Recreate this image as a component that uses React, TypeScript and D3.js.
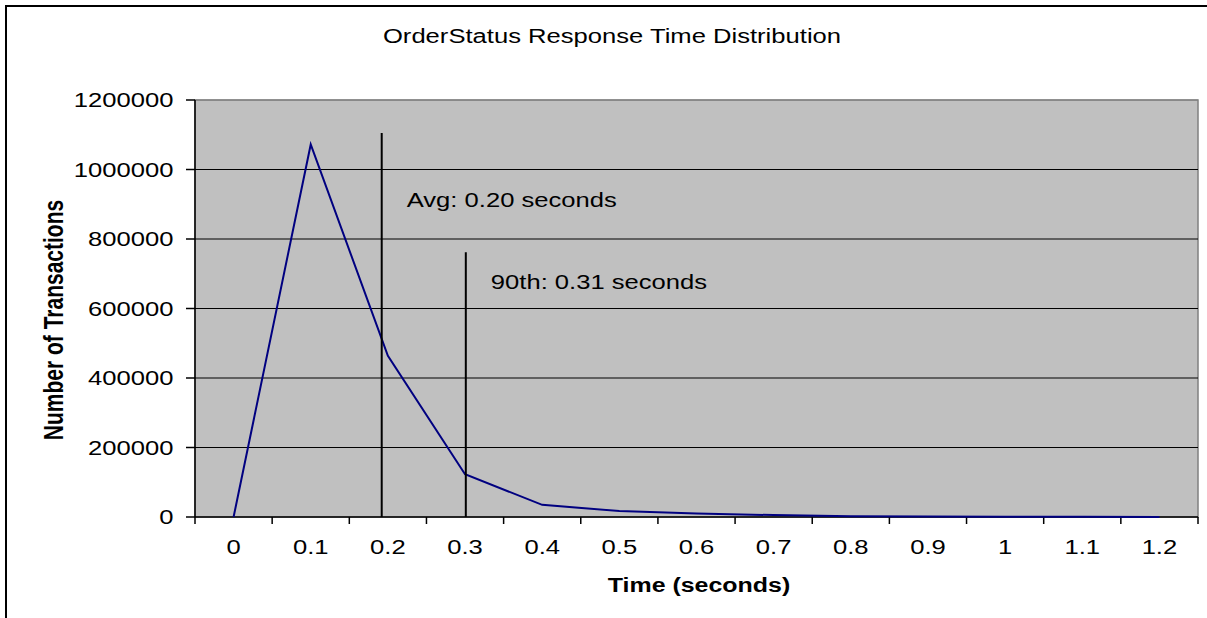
import * as d3 from "d3";
import React, {useRef, useEffect} from "react";

const categories = ["0", "0.1", "0.2", "0.3", "0.4", "0.5", "0.6", "0.7", "0.8", "0.9", "1", "1.1", "1.2"];
const transactions = [0, 1072000, 464000, 123000, 35000, 17000, 10000, 5500, 2500, 1200, 700, 400, 200];
const yTicks = [0, 200000, 400000, 600000, 800000, 1000000, 1200000];

// marker lines drawn over the chart (time in seconds, height in transactions)
const markerTimes = [0.192, 0.301];
const markerTops = [1105000, 762000];
const markerLabels = ["Avg: 0.20 seconds", "90th: 0.31 seconds"];
const markerLabelLevels = [893000, 655000];

const FONT = "'Liberation Sans', Arial, Helvetica, sans-serif";
const STRETCH = 1.28; // the original picture is widened horizontally

function App() {

    const ref = useRef(null);

    useEffect(() => {

        const svg = d3.select(ref.current);
        svg.selectAll("*").remove();

        const left = 195, right = 1198, top = 100, bottom = 517;

        const x = d3.scaleBand()
            .domain(categories)
            .range([left, right])
            .padding(0);

        const half = x.bandwidth() / 2;

        const xTime = d3.scaleLinear()
            .domain([0, 1.2])
            .range([x("0") + half, x("1.2") + half]);

        const y = d3.scaleLinear()
            .domain([0, 1200000])
            .range([bottom, top]);

        const label = (g, txt, tx, ty, anchor, size = 20, weight = "normal") =>
            g.append("text")
                .text(txt)
                .attr("transform", `translate(${tx},${ty}) scale(${STRETCH},1)`)
                .attr("text-anchor", anchor)
                .attr("font-family", FONT)
                .attr("font-size", size)
                .attr("font-weight", weight)
                .attr("fill", "black");

        // outer chart frame (cropped on the right and bottom)
        svg.append("rect")
            .attr("x", 6).attr("y", 6)
            .attr("width", 1240).attr("height", 640)
            .attr("fill", "white")
            .attr("stroke", "black")
            .attr("stroke-width", 2);

        label(svg, "OrderStatus Response Time Distribution", 612, 43, "middle");

        // plot area
        svg.append("rect")
            .attr("x", left).attr("y", top)
            .attr("width", right - left).attr("height", bottom - top)
            .attr("fill", "#c0c0c0")
            .attr("stroke", "#808080")
            .attr("stroke-width", 1.5);

        svg.append("g")
            .selectAll("line")
            .data(yTicks.filter(d => d > 0))
            .enter().append("line")
            .attr("x1", left).attr("x2", right)
            .attr("y1", d => y(d)).attr("y2", d => y(d))
            .attr("stroke", d => d === 1200000 ? "#808080" : "black")
            .attr("stroke-width", 1);

        // y axis
        svg.append("line")
            .attr("x1", left).attr("x2", left)
            .attr("y1", top).attr("y2", bottom)
            .attr("stroke", "black").attr("stroke-width", 1.5);

        const yAxis = svg.append("g");
        yAxis.selectAll("line")
            .data(yTicks)
            .enter().append("line")
            .attr("x1", left - 9).attr("x2", left)
            .attr("y1", d => y(d)).attr("y2", d => y(d))
            .attr("stroke", "black").attr("stroke-width", 1.5);
        yTicks.forEach(d => label(yAxis, String(d), 173.5, y(d) + 7.3, "end"));

        svg.append("text")
            .text("Number of Transactions")
            .attr("transform", `translate(63, 320) rotate(-90) scale(1,${STRETCH})`)
            .attr("text-anchor", "middle")
            .attr("font-family", FONT)
            .attr("font-size", 21)
            .attr("font-weight", "bold")
            .attr("fill", "black");

        // x axis with ticks between categories
        svg.append("line")
            .attr("x1", left).attr("x2", right)
            .attr("y1", bottom).attr("y2", bottom)
            .attr("stroke", "black").attr("stroke-width", 1.5);

        const xAxis = svg.append("g");
        xAxis.selectAll("line")
            .data([...categories.map(c => x(c)), right])
            .enter().append("line")
            .attr("x1", d => d).attr("x2", d => d)
            .attr("y1", bottom).attr("y2", bottom + 7)
            .attr("stroke", "black").attr("stroke-width", 1.5);
        categories.forEach(c => label(xAxis, c, x(c) + half, 554, "middle"));

        label(svg, "Time (seconds)", 699, 592, "middle", 19.5, "bold");

        // data line
        const line = d3.line()
            .x((d, i) => x(categories[i]) + half)
            .y(d => y(d));

        svg.append("path")
            .datum(transactions)
            .attr("d", line)
            .attr("fill", "none")
            .attr("stroke", "#000080")
            .attr("stroke-width", 2);

        // marker lines and labels
        const markers = svg.append("g");
        markerTimes.forEach((t, i) => {
            markers.append("line")
                .attr("x1", xTime(t)).attr("x2", xTime(t))
                .attr("y1", bottom)
                .attr("y2", y(markerTops[i]))
                .attr("stroke", "black")
                .attr("stroke-width", 2);
            label(markers, markerLabels[i], xTime(t) + 25, y(markerLabelLevels[i]), "start");
        });

    }, []);

    return (
        <svg ref={ref} width={1207} height={618}
            style={{position: "absolute", left: 0, top: 0, background: "white"}} />
    );
}

export default App;
